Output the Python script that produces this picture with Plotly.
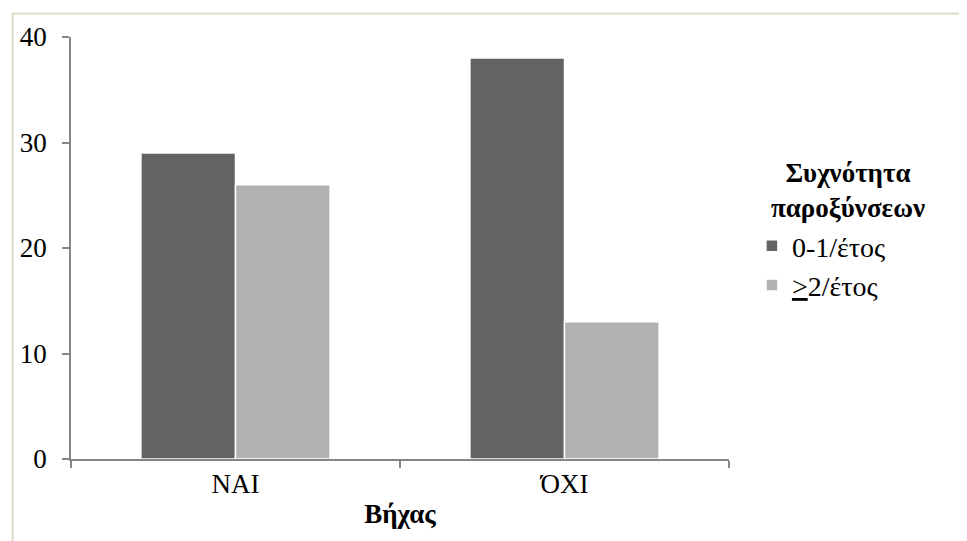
import plotly.graph_objects as go

categories = ["ΝΑΙ", "ΌΧΙ"]
series_names = ["0-1/έτος", "<u>></u>2/έτος"]
values_low = [29, 38]
values_high = [26, 13]
colors = ["#636363", "#b2b2b2"]

FONT = "Liberation Serif, Times New Roman, serif"

fig = go.Figure()
for i, (name, vals) in enumerate(zip(series_names, [values_low, values_high])):
    fig.add_trace(go.Bar(
        x=categories, y=vals, name=name,
        marker=dict(color=colors[i], line=dict(color="white", width=1.5)),
    ))

OFF = 8  # default page body margin
W, H = 967, 541
# target page coordinates of plot area
PL, PR, PT, PB = 69, 729, 37, 459
L, T = PL - OFF, PT - OFF
R, B = W - (PR - OFF), H - (PB - OFF)
pw, ph = PR - PL, PB - PT

def px(x):
    return (x - PL) / pw

def py(y):
    return (PB - y) / ph

fig.update_layout(
    width=W, height=H,
    margin=dict(l=L, r=R, t=T, b=B),
    paper_bgcolor="white", plot_bgcolor="white",
    font=dict(family=FONT, size=27, color="black"),
    barmode="group", bargap=0.425, bargroupgap=0,
    showlegend=True,
    legend=dict(
        x=px(752), y=py(221), xanchor="left", yanchor="top",
        font=dict(family=FONT, size=28, color="black"),
        itemwidth=30,
        bgcolor="rgba(0,0,0,0)",
    ),
    xaxis=dict(
        showline=True, linecolor="#868686", linewidth=1.5,
        ticks="outside", tickson="boundaries", ticklen=7, tickcolor="#868686", tickwidth=1.5,
        tickfont=dict(family=FONT, size=27, color="black"),
        title=dict(text="<b>Βήχας</b>", font=dict(family=FONT, size=27, color="black"), standoff=6),
        showgrid=False, zeroline=False,
    ),
    yaxis=dict(
        range=[0, 40], tickvals=[0, 10, 20, 30, 40],
        showline=True, linecolor="#868686", linewidth=1.5,
        ticks="outside", ticklen=7, tickcolor="#868686", tickwidth=1.5,
        tickfont=dict(family=FONT, size=27, color="black"),
        ticklabelstandoff=10,
        showgrid=False, zeroline=False,
    ),
    annotations=[dict(
        text="<b>Συχνότητα<br>παροξύνσεων</b>", xref="paper", yref="paper",
        x=px(848), y=py(190), xanchor="center", yanchor="middle",
        showarrow=False, align="center",
        font=dict(family=FONT, size=27, color="black"),
    )],
    shapes=[dict(
        type="rect", xref="paper", yref="paper",
        x0=px(10.5), x1=px(1000), y0=py(600), y1=py(13.5),
        line=dict(color="#dedbc6", width=2), fillcolor="rgba(0,0,0,0)", layer="below",
    )],
)

fig.write_html("out.html")
